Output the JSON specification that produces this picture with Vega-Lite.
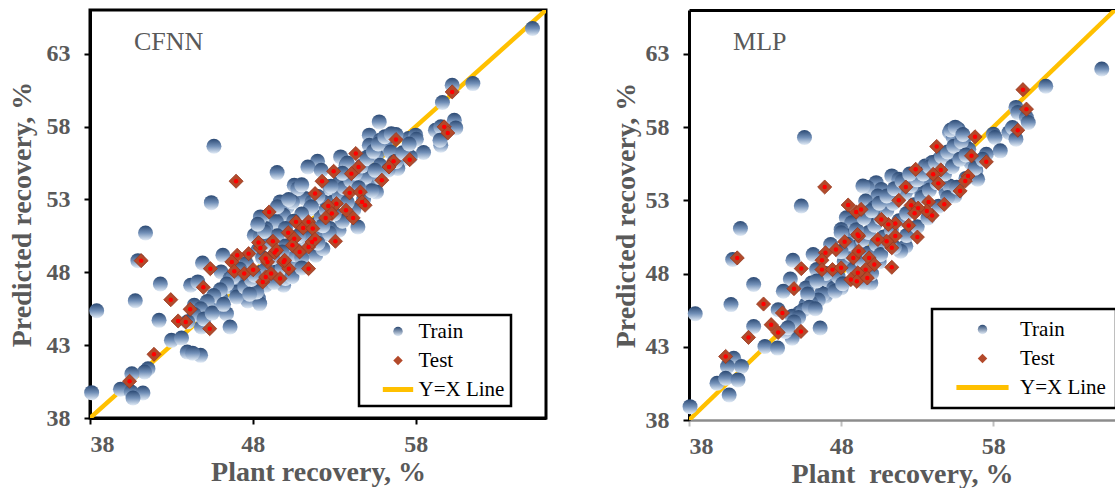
{
"$schema": "https://vega.github.io/schema/vega-lite/v6.json",
"padding": {"left": 6, "top": 8, "right": 0, "bottom": 0},
"spacing": 64,
"config": {
  "font": "Liberation Serif",
  "view": {"stroke": null},
  "axis": {"labelFont": "Liberation Serif", "labelFontWeight": "bold", "labelFontSize": 24, "labelColor": "#595959", "titleFont": "Liberation Serif", "titleFontWeight": "bold", "titleFontSize": 28, "titleColor": "#595959", "domainColor": "black", "domainWidth": 3, "tickColor": "black", "tickWidth": 2, "tickSize": 6, "grid": false, "labelPadding": 8, "titlePadding": 2},
  "axisY": {"labelPadding": 14, "titlePadding": 10},
  "legend": {"strokeWidth": 2.5, "labelFont": "Liberation Serif", "labelFontSize": 21, "labelColor": "black", "symbolOpacity": 1, "symbolStrokeWidth": 5, "symbolSize": 90, "clipHeight": 21, "rowPadding": 7, "strokeColor": "black", "fillColor": "white"}
},
"datasets": {
  "line": [{"x": 38, "y": 38}, {"x": 66, "y": 66}],
  "cfnn": [
{"x":45.61,"y":56.65,"s":"Train"},{"x":45.45,"y":52.78,"s":"Train"},{"x":41.41,"y":50.7,"s":"Train"},{"x":40.94,"y":48.8,"s":"Train"},{"x":42.32,"y":47.2,"s":"Train"},{"x":40.78,"y":46.05,"s":"Train"},{"x":38.41,"y":45.36,"s":"Train"},{"x":42.24,"y":44.7,"s":"Train"},{"x":43.0,"y":43.33,"s":"Train"},{"x":43.62,"y":43.49,"s":"Train"},{"x":43.97,"y":42.53,"s":"Train"},{"x":44.79,"y":42.3,"s":"Train"},{"x":44.3,"y":42.45,"s":"Train"},{"x":41.56,"y":41.38,"s":"Train"},{"x":41.35,"y":41.16,"s":"Train"},{"x":40.57,"y":41.04,"s":"Train"},{"x":39.87,"y":39.97,"s":"Train"},{"x":40.53,"y":39.78,"s":"Train"},{"x":41.25,"y":39.72,"s":"Train"},{"x":40.64,"y":39.37,"s":"Train"},{"x":38.1,"y":39.74,"s":"Train"},
{"x":65.17,"y":64.73,"s":"Train"},{"x":61.51,"y":60.95,"s":"Train"},{"x":60.24,"y":60.84,"s":"Train"},{"x":59.64,"y":59.65,"s":"Train"},{"x":59.21,"y":57.75,"s":"Train"},{"x":59.54,"y":57.98,"s":"Train"},{"x":60.37,"y":58.43,"s":"Train"},{"x":60.46,"y":57.91,"s":"Train"},{"x":59.54,"y":56.72,"s":"Train"},{"x":59.49,"y":57.06,"s":"Train"},{"x":58.48,"y":56.22,"s":"Train"},{"x":57.56,"y":57.18,"s":"Train"},{"x":58.0,"y":57.41,"s":"Train"},{"x":58.04,"y":57.13,"s":"Train"},{"x":57.67,"y":55.92,"s":"Train"},{"x":57.34,"y":55.8,"s":"Train"},{"x":56.79,"y":57.45,"s":"Train"},{"x":55.76,"y":58.32,"s":"Train"},{"x":55.15,"y":57.41,"s":"Train"},{"x":55.15,"y":56.72,"s":"Train"},{"x":55.81,"y":57.06,"s":"Train"},{"x":56.14,"y":56.72,"s":"Train"},{"x":56.46,"y":56.26,"s":"Train"},{"x":55.04,"y":55.92,"s":"Train"},{"x":55.59,"y":56.03,"s":"Train"},{"x":55.81,"y":55.35,"s":"Train"},{"x":56.68,"y":55.57,"s":"Train"},{"x":56.9,"y":55.12,"s":"Train"},{"x":55.15,"y":54.89,"s":"Train"},{"x":55.37,"y":54.2,"s":"Train"},{"x":55.59,"y":53.51,"s":"Train"},{"x":54.49,"y":54.66,"s":"Train"},{"x":54.16,"y":54.2,"s":"Train"},{"x":54.93,"y":54.54,"s":"Train"},{"x":53.39,"y":55.92,"s":"Train"},{"x":53.72,"y":55.35,"s":"Train"},{"x":53.29,"y":54.09,"s":"Train"},{"x":53.61,"y":53.74,"s":"Train"},{"x":54.45,"y":51.11,"s":"Train"},{"x":52.52,"y":52.83,"s":"Train"},{"x":53.18,"y":53.29,"s":"Train"},{"x":52.74,"y":53.74,"s":"Train"},{"x":51.97,"y":55.62,"s":"Train"},{"x":51.38,"y":55.23,"s":"Train"},{"x":51.2,"y":53.06,"s":"Train"},{"x":51.64,"y":52.83,"s":"Train"},{"x":51.53,"y":52.37,"s":"Train"},{"x":50.54,"y":53.97,"s":"Train"},{"x":50.76,"y":53.74,"s":"Train"},{"x":49.49,"y":54.84,"s":"Train"},{"x":49.67,"y":52.83,"s":"Train"},{"x":50.11,"y":52.49,"s":"Train"},{"x":50.43,"y":52.83,"s":"Train"},{"x":49.89,"y":51.91,"s":"Train"},{"x":49.0,"y":51.91,"s":"Train"},{"x":49.45,"y":51.46,"s":"Train"},{"x":48.79,"y":51.0,"s":"Train"},{"x":48.46,"y":51.8,"s":"Train"},{"x":48.09,"y":50.54,"s":"Train"},{"x":48.46,"y":50.43,"s":"Train"},{"x":48.9,"y":50.08,"s":"Train"},{"x":50.11,"y":48.82,"s":"Train"},{"x":50.54,"y":49.17,"s":"Train"},{"x":50.87,"y":48.82,"s":"Train"},{"x":51.86,"y":49.17,"s":"Train"},{"x":52.3,"y":49.62,"s":"Train"},{"x":52.3,"y":50.54,"s":"Train"},{"x":52.74,"y":51.0,"s":"Train"},{"x":53.29,"y":50.89,"s":"Train"},{"x":46.16,"y":49.17,"s":"Train"},{"x":46.05,"y":48.02,"s":"Train"},{"x":46.6,"y":47.57,"s":"Train"},{"x":46.38,"y":46.99,"s":"Train"},{"x":47.04,"y":47.34,"s":"Train"},{"x":44.91,"y":48.64,"s":"Train"},{"x":44.18,"y":47.11,"s":"Train"},{"x":44.62,"y":47.34,"s":"Train"},{"x":44.4,"y":45.73,"s":"Train"},{"x":45.28,"y":45.28,"s":"Train"},{"x":45.83,"y":45.85,"s":"Train"},{"x":46.38,"y":45.16,"s":"Train"},{"x":46.6,"y":44.25,"s":"Train"},{"x":46.05,"y":46.19,"s":"Train"},{"x":44.84,"y":44.25,"s":"Train"},{"x":47.04,"y":46.65,"s":"Train"},{"x":47.69,"y":46.88,"s":"Train"},{"x":47.91,"y":47.22,"s":"Train"},{"x":47.69,"y":46.03,"s":"Train"},{"x":48.35,"y":46.19,"s":"Train"},{"x":48.42,"y":45.85,"s":"Train"},{"x":48.79,"y":47.11,"s":"Train"},{"x":49.23,"y":47.57,"s":"Train"},{"x":49.89,"y":47.11,"s":"Train"},{"x":50.0,"y":47.57,"s":"Train"},{"x":50.32,"y":47.91,"s":"Train"},{"x":48.02,"y":46.88,"s":"Train"},{"x":48.24,"y":46.65,"s":"Train"},
{"x":48.3,"y":49.5,"s":"Train"},{"x":48.6,"y":49.0,"s":"Train"},{"x":49.0,"y":48.5,"s":"Train"},{"x":49.4,"y":48.0,"s":"Train"},{"x":49.8,"y":48.3,"s":"Train"},{"x":50.3,"y":48.7,"s":"Train"},{"x":50.6,"y":49.2,"s":"Train"},{"x":50.9,"y":49.8,"s":"Train"},{"x":51.2,"y":50.3,"s":"Train"},{"x":51.5,"y":50.8,"s":"Train"},{"x":51.9,"y":51.3,"s":"Train"},{"x":52.2,"y":51.8,"s":"Train"},{"x":52.5,"y":52.3,"s":"Train"},{"x":52.9,"y":52.8,"s":"Train"},{"x":53.3,"y":53.3,"s":"Train"},{"x":53.6,"y":53.8,"s":"Train"},{"x":54.0,"y":54.3,"s":"Train"},{"x":54.3,"y":54.8,"s":"Train"},{"x":54.7,"y":55.3,"s":"Train"},{"x":55.0,"y":55.8,"s":"Train"},{"x":55.4,"y":56.3,"s":"Train"},{"x":55.7,"y":56.8,"s":"Train"},{"x":56.1,"y":57.3,"s":"Train"},{"x":56.5,"y":57.5,"s":"Train"},{"x":53.8,"y":55.5,"s":"Train"},{"x":53.5,"y":54.8,"s":"Train"},{"x":52.8,"y":53.9,"s":"Train"},{"x":52.0,"y":53.2,"s":"Train"},{"x":51.6,"y":52.5,"s":"Train"},{"x":51.0,"y":52.0,"s":"Train"},{"x":50.5,"y":51.5,"s":"Train"},{"x":50.0,"y":51.0,"s":"Train"},{"x":49.5,"y":50.5,"s":"Train"},{"x":49.0,"y":50.0,"s":"Train"},{"x":48.7,"y":50.8,"s":"Train"},{"x":48.3,"y":51.3,"s":"Train"},{"x":49.5,"y":52.5,"s":"Train"},{"x":50.2,"y":53.0,"s":"Train"},{"x":51.0,"y":54.0,"s":"Train"},{"x":52.2,"y":55.0,"s":"Train"},{"x":47.6,"y":48.6,"s":"Train"},{"x":47.2,"y":48.2,"s":"Train"},{"x":46.8,"y":47.7,"s":"Train"},{"x":46.4,"y":47.2,"s":"Train"},{"x":46.0,"y":46.8,"s":"Train"},{"x":45.6,"y":46.4,"s":"Train"},{"x":45.2,"y":46.0,"s":"Train"},{"x":44.8,"y":45.5,"s":"Train"},{"x":44.4,"y":45.1,"s":"Train"},{"x":44.0,"y":44.6,"s":"Train"},{"x":45.0,"y":44.8,"s":"Train"},{"x":45.5,"y":45.2,"s":"Train"},{"x":46.2,"y":45.8,"s":"Train"},{"x":47.0,"y":46.3,"s":"Train"},{"x":47.5,"y":47.0,"s":"Train"},{"x":47.9,"y":47.5,"s":"Train"},{"x":48.5,"y":48.0,"s":"Train"},{"x":50.0,"y":49.8,"s":"Train"},{"x":51.0,"y":49.0,"s":"Train"},{"x":52.0,"y":50.0,"s":"Train"},{"x":52.7,"y":50.7,"s":"Train"},{"x":53.5,"y":51.5,"s":"Train"},{"x":54.2,"y":52.3,"s":"Train"},{"x":54.8,"y":53.0,"s":"Train"},{"x":55.3,"y":53.6,"s":"Train"},{"x":55.8,"y":54.5,"s":"Train"},{"x":56.3,"y":55.0,"s":"Train"},{"x":56.8,"y":55.6,"s":"Train"},{"x":57.2,"y":56.2,"s":"Train"},{"x":57.6,"y":56.8,"s":"Train"},{"x":55.5,"y":55.0,"s":"Train"},{"x":54.5,"y":53.8,"s":"Train"},{"x":53.8,"y":52.8,"s":"Train"},{"x":53.0,"y":52.0,"s":"Train"},{"x":52.3,"y":51.2,"s":"Train"},{"x":51.5,"y":50.4,"s":"Train"},{"x":50.8,"y":50.5,"s":"Train"},{"x":49.8,"y":49.4,"s":"Train"},{"x":49.2,"y":49.0,"s":"Train"},{"x":48.8,"y":48.2,"s":"Train"},{"x":48.1,"y":47.8,"s":"Train"},{"x":47.8,"y":46.5,"s":"Train"},{"x":50.4,"y":47.7,"s":"Train"},{"x":51.0,"y":48.3,"s":"Train"},{"x":49.3,"y":47.3,"s":"Train"},
{"x":46.97,"y":54.25,"s":"Test"},{"x":41.14,"y":48.8,"s":"Test"},{"x":42.96,"y":46.12,"s":"Test"},{"x":43.41,"y":44.66,"s":"Test"},{"x":43.88,"y":44.59,"s":"Test"},{"x":44.15,"y":45.46,"s":"Test"},{"x":44.96,"y":46.97,"s":"Test"},{"x":45.35,"y":44.13,"s":"Test"},{"x":41.93,"y":42.37,"s":"Test"},{"x":40.43,"y":40.52,"s":"Test"},{"x":60.24,"y":60.38,"s":"Test"},{"x":59.75,"y":57.98,"s":"Test"},{"x":59.97,"y":57.56,"s":"Test"},{"x":57.63,"y":55.73,"s":"Test"},{"x":56.79,"y":57.11,"s":"Test"},{"x":56.64,"y":55.62,"s":"Test"},{"x":56.36,"y":55.23,"s":"Test"},{"x":55.92,"y":54.32,"s":"Test"},{"x":54.32,"y":56.15,"s":"Test"},{"x":54.49,"y":55.23,"s":"Test"},{"x":54.05,"y":54.77,"s":"Test"},{"x":52.96,"y":54.93,"s":"Test"},{"x":53.94,"y":53.45,"s":"Test"},{"x":54.6,"y":53.51,"s":"Test"},{"x":54.71,"y":52.83,"s":"Test"},{"x":54.89,"y":52.6,"s":"Test"},{"x":53.72,"y":52.26,"s":"Test"},{"x":54.16,"y":51.73,"s":"Test"},{"x":53.07,"y":50.13,"s":"Test"},{"x":53.13,"y":52.71,"s":"Test"},{"x":52.63,"y":52.55,"s":"Test"},{"x":52.85,"y":52.03,"s":"Test"},{"x":52.47,"y":51.73,"s":"Test"},{"x":52.25,"y":54.25,"s":"Test"},{"x":51.82,"y":53.4,"s":"Test"},{"x":49.0,"y":52.14,"s":"Test"},{"x":48.46,"y":49.67,"s":"Test"},{"x":49.23,"y":50.13,"s":"Test"},{"x":49.34,"y":49.35,"s":"Test"},{"x":50.17,"y":50.72,"s":"Test"},{"x":50.65,"y":51.46,"s":"Test"},{"x":51.09,"y":51.04,"s":"Test"},{"x":51.42,"y":51.46,"s":"Test"},{"x":51.68,"y":51.0,"s":"Test"},{"x":50.54,"y":50.31,"s":"Test"},{"x":50.43,"y":49.85,"s":"Test"},{"x":50.87,"y":49.4,"s":"Test"},{"x":51.42,"y":49.74,"s":"Test"},{"x":51.64,"y":50.08,"s":"Test"},{"x":51.82,"y":50.26,"s":"Test"},{"x":51.42,"y":48.25,"s":"Test"},{"x":47.74,"y":49.28,"s":"Test"},{"x":47.04,"y":49.17,"s":"Test"},{"x":46.71,"y":48.71,"s":"Test"},{"x":46.86,"y":48.07,"s":"Test"},{"x":47.47,"y":47.91,"s":"Test"},{"x":48.02,"y":48.18,"s":"Test"},{"x":45.39,"y":48.25,"s":"Test"},{"x":48.61,"y":47.34,"s":"Test"},{"x":48.79,"y":47.68,"s":"Test"},{"x":49.12,"y":47.91,"s":"Test"},{"x":48.9,"y":48.71,"s":"Test"},{"x":49.89,"y":48.71,"s":"Test"},{"x":49.67,"y":47.57,"s":"Test"},{"x":50.21,"y":48.25,"s":"Test"},{"x":48.79,"y":48.94,"s":"Test"},{"x":49.45,"y":49.51,"s":"Test"},{"x":48.35,"y":50.04,"s":"Test"},{"x":49.95,"y":48.82,"s":"Test"}
  ],
  "mlp": [
{"x":65.13,"y":61.97,"s":"Train"},{"x":61.45,"y":60.79,"s":"Train"},{"x":59.49,"y":59.35,"s":"Train"},{"x":59.61,"y":59.0,"s":"Train"},{"x":60.18,"y":58.66,"s":"Train"},{"x":60.3,"y":58.32,"s":"Train"},{"x":59.03,"y":57.63,"s":"Train"},{"x":59.26,"y":57.98,"s":"Train"},{"x":59.49,"y":57.18,"s":"Train"},{"x":58.0,"y":57.52,"s":"Train"},{"x":58.11,"y":57.29,"s":"Train"},{"x":58.46,"y":56.38,"s":"Train"},{"x":57.54,"y":56.15,"s":"Train"},{"x":55.13,"y":57.63,"s":"Train"},{"x":55.7,"y":57.86,"s":"Train"},{"x":55.36,"y":57.29,"s":"Train"},{"x":56.05,"y":56.95,"s":"Train"},{"x":56.39,"y":56.49,"s":"Train"},{"x":54.44,"y":55.81,"s":"Train"},{"x":54.9,"y":56.04,"s":"Train"},{"x":55.59,"y":55.81,"s":"Train"},{"x":55.82,"y":56.27,"s":"Train"},{"x":56.51,"y":55.58,"s":"Train"},{"x":56.85,"y":55.01,"s":"Train"},{"x":56.97,"y":54.44,"s":"Train"},{"x":55.47,"y":53.3,"s":"Train"},{"x":54.9,"y":53.53,"s":"Train"},{"x":55.13,"y":53.98,"s":"Train"},{"x":53.52,"y":55.35,"s":"Train"},{"x":53.98,"y":55.58,"s":"Train"},{"x":53.06,"y":54.67,"s":"Train"},{"x":53.75,"y":54.21,"s":"Train"},{"x":52.71,"y":53.98,"s":"Train"},{"x":53.29,"y":53.53,"s":"Train"},{"x":52.37,"y":53.75,"s":"Train"},{"x":52.25,"y":49.87,"s":"Train"},{"x":51.91,"y":49.53,"s":"Train"},{"x":51.33,"y":54.67,"s":"Train"},{"x":51.79,"y":54.44,"s":"Train"},{"x":51.68,"y":53.75,"s":"Train"},{"x":50.3,"y":54.21,"s":"Train"},{"x":50.64,"y":53.75,"s":"Train"},{"x":49.72,"y":53.87,"s":"Train"},{"x":50.41,"y":53.3,"s":"Train"},{"x":50.99,"y":52.84,"s":"Train"},{"x":49.43,"y":53.98,"s":"Train"},{"x":49.61,"y":52.96,"s":"Train"},{"x":50.18,"y":52.5,"s":"Train"},{"x":49.84,"y":52.16,"s":"Train"},{"x":50.3,"y":51.7,"s":"Train"},{"x":50.76,"y":52.16,"s":"Train"},{"x":48.34,"y":51.81,"s":"Train"},{"x":48.69,"y":51.47,"s":"Train"},{"x":48.0,"y":51.01,"s":"Train"},{"x":48.46,"y":50.56,"s":"Train"},{"x":48.46,"y":49.64,"s":"Train"},{"x":48.69,"y":48.96,"s":"Train"},{"x":49.38,"y":48.5,"s":"Train"},{"x":49.95,"y":47.36,"s":"Train"},{"x":48.0,"y":47.02,"s":"Train"},{"x":47.77,"y":47.59,"s":"Train"},{"x":47.31,"y":49.99,"s":"Train"},{"x":48.0,"y":50.79,"s":"Train"},{"x":45.59,"y":57.29,"s":"Train"},{"x":45.38,"y":52.61,"s":"Train"},{"x":41.38,"y":51.08,"s":"Train"},{"x":40.87,"y":48.96,"s":"Train"},{"x":42.25,"y":47.25,"s":"Train"},{"x":40.76,"y":45.88,"s":"Train"},{"x":38.41,"y":45.26,"s":"Train"},{"x":44.83,"y":48.91,"s":"Train"},{"x":44.66,"y":47.63,"s":"Train"},{"x":44.2,"y":46.79,"s":"Train"},{"x":43.86,"y":45.53,"s":"Train"},{"x":46.16,"y":49.3,"s":"Train"},{"x":46.39,"y":48.27,"s":"Train"},{"x":46.05,"y":47.36,"s":"Train"},{"x":45.7,"y":47.02,"s":"Train"},{"x":46.74,"y":46.68,"s":"Train"},{"x":46.97,"y":46.45,"s":"Train"},{"x":46.28,"y":46.1,"s":"Train"},{"x":45.7,"y":45.88,"s":"Train"},{"x":45.24,"y":45.31,"s":"Train"},{"x":44.78,"y":45.08,"s":"Train"},{"x":46.62,"y":44.28,"s":"Train"},{"x":42.25,"y":44.39,"s":"Train"},{"x":42.99,"y":43.02,"s":"Train"},{"x":43.82,"y":42.91,"s":"Train"},{"x":44.78,"y":43.59,"s":"Train"},{"x":44.32,"y":44.05,"s":"Train"},{"x":40.94,"y":42.22,"s":"Train"},{"x":40.53,"y":41.65,"s":"Train"},{"x":41.45,"y":41.65,"s":"Train"},{"x":39.84,"y":40.51,"s":"Train"},{"x":40.41,"y":40.85,"s":"Train"},{"x":41.22,"y":40.74,"s":"Train"},{"x":40.64,"y":39.71,"s":"Train"},{"x":38.07,"y":38.91,"s":"Train"},
{"x":47.2,"y":47.5,"s":"Train"},{"x":47.5,"y":47.0,"s":"Train"},{"x":47.8,"y":47.8,"s":"Train"},{"x":46.8,"y":46.6,"s":"Train"},{"x":46.5,"y":46.2,"s":"Train"},{"x":46.0,"y":46.0,"s":"Train"},{"x":45.5,"y":45.5,"s":"Train"},{"x":45.2,"y":45.0,"s":"Train"},{"x":44.9,"y":44.7,"s":"Train"},{"x":44.5,"y":44.3,"s":"Train"},{"x":47.0,"y":48.0,"s":"Train"},{"x":48.2,"y":48.8,"s":"Train"},{"x":48.6,"y":49.3,"s":"Train"},{"x":49.0,"y":49.8,"s":"Train"},{"x":49.4,"y":50.3,"s":"Train"},{"x":49.8,"y":50.8,"s":"Train"},{"x":50.2,"y":51.3,"s":"Train"},{"x":50.6,"y":51.8,"s":"Train"},{"x":51.0,"y":52.3,"s":"Train"},{"x":51.4,"y":52.8,"s":"Train"},{"x":51.8,"y":53.2,"s":"Train"},{"x":52.2,"y":53.5,"s":"Train"},{"x":52.6,"y":54.0,"s":"Train"},{"x":53.0,"y":54.4,"s":"Train"},{"x":53.4,"y":54.8,"s":"Train"},{"x":53.8,"y":55.3,"s":"Train"},{"x":54.2,"y":55.6,"s":"Train"},{"x":54.6,"y":56.0,"s":"Train"},{"x":55.0,"y":56.3,"s":"Train"},{"x":55.4,"y":56.7,"s":"Train"},{"x":55.9,"y":57.0,"s":"Train"},{"x":55.2,"y":57.8,"s":"Train"},{"x":55.5,"y":58.0,"s":"Train"},{"x":56.0,"y":57.5,"s":"Train"},{"x":48.4,"y":50.0,"s":"Train"},{"x":49.0,"y":51.0,"s":"Train"},{"x":49.5,"y":51.8,"s":"Train"},{"x":50.0,"y":52.3,"s":"Train"},{"x":50.5,"y":52.8,"s":"Train"},{"x":51.0,"y":53.3,"s":"Train"},{"x":51.5,"y":53.8,"s":"Train"},{"x":52.0,"y":54.3,"s":"Train"},{"x":52.5,"y":54.8,"s":"Train"},{"x":48.0,"y":49.5,"s":"Train"},{"x":48.8,"y":48.3,"s":"Train"},{"x":49.3,"y":48.9,"s":"Train"},{"x":49.8,"y":49.4,"s":"Train"},{"x":50.3,"y":50.0,"s":"Train"},{"x":50.8,"y":50.5,"s":"Train"},{"x":51.3,"y":51.0,"s":"Train"},{"x":51.8,"y":51.6,"s":"Train"},{"x":52.3,"y":52.1,"s":"Train"},{"x":52.8,"y":52.7,"s":"Train"},{"x":53.3,"y":53.2,"s":"Train"},{"x":53.8,"y":53.7,"s":"Train"},{"x":54.3,"y":54.2,"s":"Train"},{"x":54.8,"y":54.8,"s":"Train"},{"x":55.3,"y":55.3,"s":"Train"},{"x":55.8,"y":55.8,"s":"Train"},{"x":56.2,"y":56.1,"s":"Train"},{"x":46.4,"y":47.5,"s":"Train"},{"x":45.8,"y":46.6,"s":"Train"},{"x":45.9,"y":45.7,"s":"Train"},{"x":46.3,"y":45.6,"s":"Train"},{"x":47.6,"y":46.8,"s":"Train"},{"x":48.1,"y":47.3,"s":"Train"},{"x":49.5,"y":47.4,"s":"Train"},{"x":50.0,"y":48.0,"s":"Train"},{"x":50.5,"y":48.8,"s":"Train"},{"x":51.5,"y":49.8,"s":"Train"},{"x":52.3,"y":50.6,"s":"Train"},{"x":53.0,"y":51.2,"s":"Train"},{"x":53.7,"y":51.8,"s":"Train"},{"x":54.4,"y":52.6,"s":"Train"},{"x":55.0,"y":53.2,"s":"Train"},{"x":55.6,"y":53.9,"s":"Train"},{"x":56.2,"y":54.5,"s":"Train"},{"x":56.8,"y":55.2,"s":"Train"},{"x":57.3,"y":55.8,"s":"Train"},{"x":50.6,"y":49.3,"s":"Train"},{"x":51.2,"y":50.0,"s":"Train"},
{"x":59.95,"y":60.56,"s":"Test"},{"x":60.18,"y":59.23,"s":"Test"},{"x":59.61,"y":57.79,"s":"Test"},{"x":57.54,"y":55.63,"s":"Test"},{"x":56.8,"y":57.34,"s":"Test"},{"x":56.57,"y":56.04,"s":"Test"},{"x":54.28,"y":56.68,"s":"Test"},{"x":56.34,"y":54.67,"s":"Test"},{"x":56.16,"y":54.32,"s":"Test"},{"x":55.82,"y":53.64,"s":"Test"},{"x":54.55,"y":55.08,"s":"Test"},{"x":54.05,"y":54.78,"s":"Test"},{"x":54.39,"y":54.16,"s":"Test"},{"x":54.78,"y":52.73,"s":"Test"},{"x":53.75,"y":52.89,"s":"Test"},{"x":53.98,"y":51.97,"s":"Test"},{"x":53.63,"y":52.27,"s":"Test"},{"x":52.9,"y":55.12,"s":"Test"},{"x":52.25,"y":53.91,"s":"Test"},{"x":52.6,"y":52.66,"s":"Test"},{"x":53.06,"y":52.47,"s":"Test"},{"x":52.83,"y":52.12,"s":"Test"},{"x":52.44,"y":51.29,"s":"Test"},{"x":53.01,"y":50.49,"s":"Test"},{"x":51.79,"y":53.0,"s":"Test"},{"x":51.56,"y":51.42,"s":"Test"},{"x":51.1,"y":51.36,"s":"Test"},{"x":50.64,"y":51.7,"s":"Test"},{"x":51.56,"y":50.56,"s":"Test"},{"x":51.33,"y":49.76,"s":"Test"},{"x":50.99,"y":50.21,"s":"Test"},{"x":50.41,"y":50.33,"s":"Test"},{"x":51.33,"y":48.43,"s":"Test"},{"x":48.46,"y":52.68,"s":"Test"},{"x":48.99,"y":52.2,"s":"Test"},{"x":49.31,"y":52.38,"s":"Test"},{"x":48.23,"y":50.17,"s":"Test"},{"x":49.15,"y":50.56,"s":"Test"},{"x":47.66,"y":49.64,"s":"Test"},{"x":46.97,"y":49.42,"s":"Test"},{"x":46.74,"y":48.91,"s":"Test"},{"x":46.74,"y":48.27,"s":"Test"},{"x":47.43,"y":48.27,"s":"Test"},{"x":48.0,"y":48.39,"s":"Test"},{"x":48.8,"y":49.07,"s":"Test"},{"x":49.84,"y":49.07,"s":"Test"},{"x":50.18,"y":48.62,"s":"Test"},{"x":49.61,"y":48.27,"s":"Test"},{"x":49.1,"y":48.05,"s":"Test"},{"x":48.64,"y":47.59,"s":"Test"},{"x":49.03,"y":47.47,"s":"Test"},{"x":49.72,"y":47.7,"s":"Test"},{"x":49.08,"y":50.67,"s":"Test"},{"x":49.15,"y":49.53,"s":"Test"},{"x":46.92,"y":53.91,"s":"Test"},{"x":41.17,"y":49.07,"s":"Test"},{"x":42.9,"y":45.92,"s":"Test"},{"x":44.14,"y":45.31,"s":"Test"},{"x":44.9,"y":46.97,"s":"Test"},{"x":45.38,"y":48.34,"s":"Test"},{"x":45.36,"y":44.05,"s":"Test"},{"x":43.4,"y":44.51,"s":"Test"},{"x":43.86,"y":43.98,"s":"Test"},{"x":41.91,"y":43.64,"s":"Test"},{"x":40.41,"y":42.34,"s":"Test"}
  ]
},
"resolve": {"scale": {"shape": "independent", "fill": "independent", "stroke": "independent"}, "legend": {"shape": "independent", "fill": "independent", "stroke": "independent"}},
"hconcat": [
{
  "width": 456, "height": 408,
  "view": {"stroke": "black", "strokeWidth": 3},
  "data": {"name": "cfnn"},
  "encoding": {
    "x": {"field": "x", "type": "quantitative", "scale": {"domain": [38, 66], "nice": false, "zero": false}, "axis": {"values": [38, 48, 58], "title": "Plant recovery, %"}},
    "y": {"field": "y", "type": "quantitative", "scale": {"domain": [38, 66], "nice": false, "zero": false}, "axis": {"values": [38, 43, 48, 53, 58, 63], "title": "Predicted recovery, %"}}
  },
  "layer": [
    {"data": {"name": "line"}, "mark": {"type": "line", "color": "#FFC000", "strokeWidth": 4.5, "clip": true}, "encoding": {}},
    {"transform": [{"filter": "datum.s === 'Train'"}],
     "mark": {"type": "point", "shape": "circle", "filled": true, "size": 225, "opacity": 1, "strokeWidth": 0, "fill": {"gradient": "linear", "x1": 0, "y1": 0, "x2": 0, "y2": 1, "stops": [{"offset": 0, "color": "#2a4872"}, {"offset": 0.5, "color": "#7290b8"}, {"offset": 1, "color": "#e4edf7"}]}}},
    {"transform": [{"filter": "datum.s === 'Test'"}],
     "mark": {"type": "point", "shape": "diamond", "filled": true, "size": 200, "opacity": 1, "fill": "#b3492a", "stroke": "#94391e", "strokeWidth": 0.8}},
    {"transform": [{"filter": "datum.s === 'Test'"}],
     "mark": {"type": "circle", "size": 20, "color": "#ff0000", "opacity": 1}},
    {"data": {"values": [{"x": 40.7, "y": 63.8, "t": "CFNN"}]},
     "mark": {"type": "text", "align": "left", "baseline": "middle", "fontSize": 26, "color": "#595959", "font": "Liberation Serif"},
     "encoding": {"text": {"field": "t"}}},
    {"mark": {"type": "point", "filled": true, "opacity": 0},
     "encoding": {
       "shape": {"field": "s", "type": "nominal", "scale": {"domain": ["Train", "Test", "Y=X Line"], "range": ["circle", "diamond", "M-3.2,0H3.2"]},
         "legend": {"orient": "none", "legendX": 269, "legendY": 305, "title": null, "padding": 6, "symbolOffset": 22.5, "labelOffset": 10}},
       "fill": {"field": "s", "type": "nominal", "scale": {"domain": ["Train", "Test", "Y=X Line"], "range": [{"expr": "{gradient: 'linear', x1: 0, y1: 0, x2: 0, y2: 1, stops: [{offset: 0, color: '#2a4872'}, {offset: 1, color: '#e4edf7'}]}"}, "#b3492a", "transparent"]}, "legend": {}},
       "stroke": {"field": "s", "type": "nominal", "scale": {"domain": ["Train", "Test", "Y=X Line"], "range": ["transparent", "transparent", "#FFC000"]}, "legend": {}}
     }}
  ]
},
{
  "width": 426, "height": 410,
  "data": {"name": "mlp"},
  "encoding": {
    "y": {"field": "y", "type": "quantitative", "scale": {"domain": [38, 66], "nice": false, "zero": false}, "axis": {"values": [38, 43, 48, 53, 58, 63], "title": "Predicted recovery, %", "titlePadding": 5}}
  },
  "resolve": {"axis": {"x": "independent"}},
  "layer": [
    {"data": {"name": "line"}, "mark": {"type": "line", "color": "#FFC000", "strokeWidth": 4.5, "clip": true},
     "encoding": {"x": {"field": "x", "type": "quantitative", "scale": {"domain": [38, 66], "nice": false, "zero": false}, "axis": {"orient": "top", "labels": false, "ticks": false, "title": null, "domainColor": "black", "domainWidth": 3}}}},
    {"transform": [{"filter": "datum.s === 'Train'"}],
     "mark": {"type": "point", "shape": "circle", "filled": true, "size": 225, "opacity": 1, "strokeWidth": 0, "fill": {"gradient": "linear", "x1": 0, "y1": 0, "x2": 0, "y2": 1, "stops": [{"offset": 0, "color": "#2a4872"}, {"offset": 0.5, "color": "#7290b8"}, {"offset": 1, "color": "#e4edf7"}]}},
     "encoding": {
       "x": {"field": "x", "type": "quantitative", "scale": {"domain": [38, 66], "nice": false, "zero": false}, "axis": {"values": [38, 48, 58], "title": "Plant\u00a0 recovery, %", "domainColor": "#8c8c8c", "domainWidth": 2.5, "tickColor": "#bfbfbf"}}}},
    {"transform": [{"filter": "datum.s === 'Test'"}],
     "mark": {"type": "point", "shape": "diamond", "filled": true, "size": 200, "opacity": 1, "fill": "#b3492a", "stroke": "#94391e", "strokeWidth": 0.8},
     "encoding": {"x": {"field": "x", "type": "quantitative", "axis": null}}},
    {"transform": [{"filter": "datum.s === 'Test'"}],
     "mark": {"type": "circle", "size": 20, "color": "#ff0000", "opacity": 1},
     "encoding": {"x": {"field": "x", "type": "quantitative", "axis": null}}},
    {"data": {"values": [{"x": 40.9, "y": 63.8, "t": "MLP"}]},
     "mark": {"type": "text", "align": "left", "baseline": "middle", "fontSize": 26, "color": "#595959", "font": "Liberation Serif"},
     "encoding": {"x": {"field": "x", "type": "quantitative", "axis": null}, "text": {"field": "t"}}},
    {"mark": {"type": "point", "filled": true, "opacity": 0},
     "encoding": {
       "x": {"field": "x", "type": "quantitative", "axis": null},
       "shape": {"field": "s", "type": "nominal", "scale": {"domain": ["Train", "Test", "Y=X Line"], "range": ["circle", "diamond", "M-5.5,0H5.5"]},
         "legend": {"orient": "none", "legendX": 243, "legendY": 299, "title": null, "padding": 10, "symbolOffset": 30, "labelOffset": 27}},
       "fill": {"field": "s", "type": "nominal", "scale": {"domain": ["Train", "Test", "Y=X Line"], "range": [{"expr": "{gradient: 'linear', x1: 0, y1: 0, x2: 0, y2: 1, stops: [{offset: 0, color: '#2a4872'}, {offset: 1, color: '#e4edf7'}]}"}, "#b3492a", "transparent"]}, "legend": {}},
       "stroke": {"field": "s", "type": "nominal", "scale": {"domain": ["Train", "Test", "Y=X Line"], "range": ["transparent", "transparent", "#FFC000"]}, "legend": {}}
     }}
  ]
}
]
}
